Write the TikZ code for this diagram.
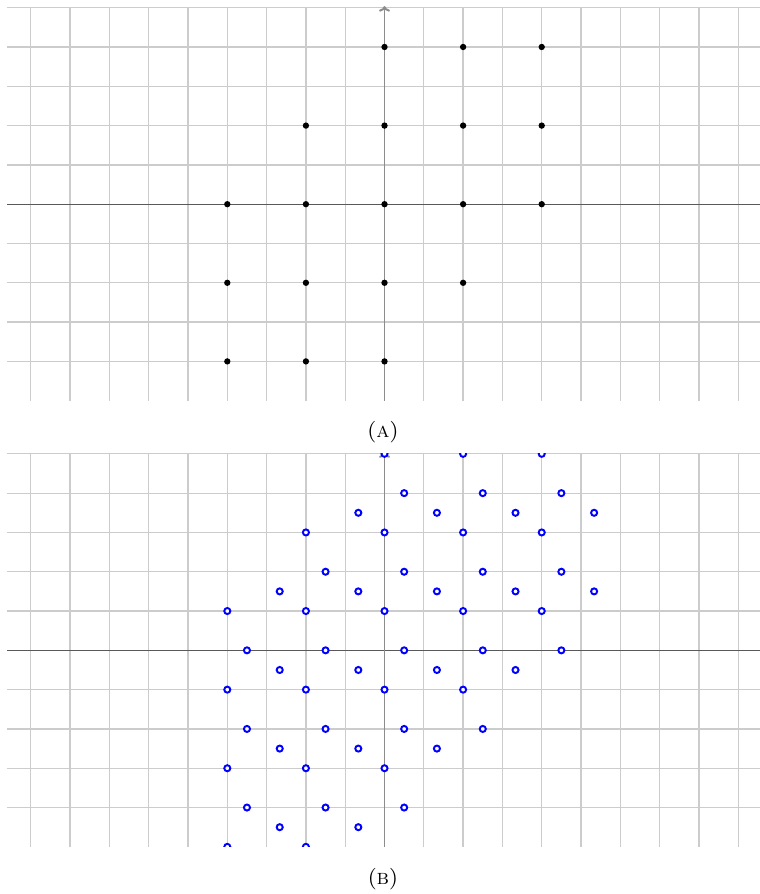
\documentclass[tikz,border=0pt]{standalone}
\usetikzlibrary{arrows.meta}
\begin{document}
\begin{tikzpicture}[
  gridline/.style={draw=black!20, line width=0.45pt},
  haxis/.style={draw=black!65, line width=0.4pt},
  vaxis/.style={draw=black!45, line width=0.7pt, -{To[length=2pt,width=4pt]}},
  adot/.style={fill=black},
  bring/.style={draw=blue, fill=white, line width=0.7pt},
  captext/.style={font=\fontsize{7.8}{9}\selectfont, inner sep=0pt}
]
\useasboundingbox (-4.892,-8.776) rectangle (4.765,2.598);

% ---------- panel A ----------
\begin{scope}
  \foreach \x in {-4.5,-4,-3.5,-3,-2.5,-2,-1.5,-1,-0.5,0,0.5,1,1.5,2,2.5,3,3.5,4,4.5}
    \draw[gridline] (\x,-2.5) -- (\x,2.5);
  \foreach \y in {-2,-1.5,-1,-0.5,0,0.5,1,1.5,2,2.5}
    \draw[gridline] (-4.8,\y) -- (4.8,\y);
  \coordinate (aL) at (-4.8,0);
  \coordinate (aR) at (4.8,0);
  \coordinate (aB) at (0,-2.5);
  \coordinate (aT) at (0,2.52);
  \draw[haxis] (aL) -- (aR);
  \draw[vaxis] (aB) -- (aT);
  \foreach \p in {(0,2),(1,2),(2,2),(-1,1),(0,1),(1,1),(2,1),(-2,0),(-1,0),(0,0),(1,0),(2,0),(-2,-1),(-1,-1),(0,-1),(1,-1),(-2,-2),(-1,-2),(0,-2)}
    \fill[adot] \p circle (1.15pt);
\end{scope}
\node[captext] (capA) at (-0.02,-2.898) {(\textsc{a})};

% ---------- panel B ----------
\begin{scope}[yshift=-5.676cm]
  \clip (-4.8,-2.5) rectangle (4.8,2.5);
  \foreach \x in {-4.5,-4,-3.5,-3,-2.5,-2,-1.5,-1,-0.5,0,0.5,1,1.5,2,2.5,3,3.5,4,4.5}
    \draw[gridline] (\x,-2.5) -- (\x,2.5);
  \foreach \y in {-2,-1.5,-1,-0.5,0,0.5,1,1.5,2,2.5}
    \draw[gridline] (-4.8,\y) -- (4.8,\y);
  \coordinate (bL) at (-4.8,0);
  \coordinate (bR) at (4.8,0);
  \coordinate (bB) at (0,-2.5);
  \coordinate (bT) at (0,2.52);
  \draw[haxis] (bL) -- (bR);
  \draw[vaxis] (bB) -- (bT);
  % sublattice 1
  \foreach \p in {(0,2.5),(1,2.5),(2,2.5),(-1,1.5),(0,1.5),(1,1.5),(2,1.5),(-2,0.5),(-1,0.5),(0,0.5),(1,0.5),(2,0.5),(-2,-0.5),(-1,-0.5),(0,-0.5),(1,-0.5),(-2,-1.5),(-1,-1.5),(0,-1.5),(-2,-2.5),(-1,-2.5)}
    \draw[bring] \p circle (1.1pt);
  % sublattice 2
  \foreach \p in {(0.25,2),(1.25,2),(2.25,2),(-0.75,1),(0.25,1),(1.25,1),(2.25,1),(-1.75,0),(-0.75,0),(0.25,0),(1.25,0),(2.25,0),(-1.75,-1),(-0.75,-1),(0.25,-1),(1.25,-1),(-1.75,-2),(-0.75,-2),(0.25,-2)}
    \draw[bring] \p circle (1.1pt);
  % sublattice 3
  \foreach \p in {(-0.3333,1.75),(0.6667,1.75),(1.6667,1.75),(2.6667,1.75),(-1.3333,0.75),(-0.3333,0.75),(0.6667,0.75),(1.6667,0.75),(2.6667,0.75),(-1.3333,-0.25),(-0.3333,-0.25),(0.6667,-0.25),(1.6667,-0.25),(-1.3333,-1.25),(-0.3333,-1.25),(0.6667,-1.25),(-1.3333,-2.25),(-0.3333,-2.25)}
    \draw[bring] \p circle (1.1pt);
\end{scope}
\node[captext] (capB) at (-0.02,-8.585) {(\textsc{b})};
\end{tikzpicture}
\end{document}
